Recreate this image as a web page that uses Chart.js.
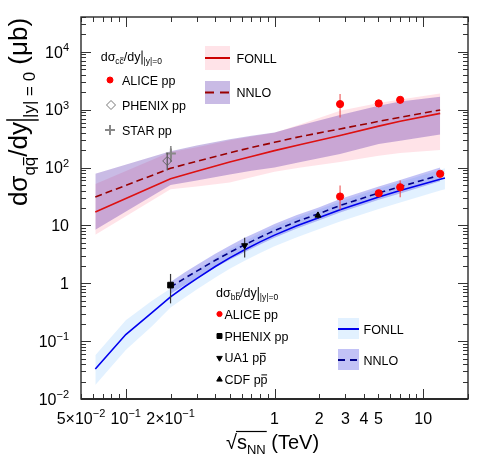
<!DOCTYPE html>
<html><head><meta charset="utf-8">
<script src="https://cdn.jsdelivr.net/npm/chart.js@4.4.1/dist/chart.umd.min.js"></script>
<style>html,body{margin:0;padding:0;background:#fff;}canvas{display:block;}</style>
</head><body>
<canvas id="c" width="480" height="466" style="width:480px;height:466px"></canvas>
<script>
// ---------------- data ----------------
const charmEnergy        = [0.0624, 0.2, 0.3, 0.5, 0.7, 1, 1.5, 2.76, 5.02, 7, 13];
const charmFonllCentral  = [17, 64, 86, 125, 155, 196, 250, 357, 520, 630, 863];
const charmFonllLow      = [6.9, 42, 47, 55, 68, 85, 100, 125, 160, 178, 202];
const charmFonllHigh     = [52, 185, 225, 295, 345, 400, 560, 960, 1300, 1500, 1910];
const charmNnloCentral   = [31, 97, 128, 180, 222, 273, 345, 465, 628, 740, 990];
const charmNnloLow       = [8.4, 50, 60, 76, 88, 100, 125, 172, 256, 292, 371];
const charmNnloHigh      = [78, 191, 240, 310, 355, 405, 540, 811, 1170, 1390, 1675];

const beautyFonllEnergy  = [0.0624, 0.1, 0.15, 0.2, 0.25, 0.3, 0.4, 0.5, 0.63, 0.8, 1, 1.4, 1.96, 2.76, 5.02, 7, 13, 14];
const beautyFonllCentral = [0.033, 0.13, 0.31, 0.58, 0.88, 1.2, 1.95, 2.75, 3.8, 5.2, 6.8, 9.8, 13.5, 18.7, 31.1, 40.3, 63, 66];
const beautyFonllLow     = [0.0174, 0.07, 0.18, 0.38, 0.57, 0.78, 1.26, 1.78, 2.46, 3.35, 4.35, 6.2, 8.5, 11.7, 19.3, 25, 40, 42];
const beautyFonllHigh    = [0.057, 0.23, 0.5, 0.81, 1.23, 1.68, 2.73, 3.86, 5.35, 7.3, 9.5, 13.6, 18.6, 25.8, 43.5, 56.5, 92, 97];
const beautyNnloEnergy   = [0.2, 0.25, 0.3, 0.4, 0.5, 0.63, 0.8, 1, 1.4, 1.96, 2.76, 5.02, 7, 13];
const beautyNnloCentral  = [0.86, 1.23, 1.62, 2.5, 3.41, 4.64, 6.24, 8.16, 11.6, 15.8, 22.1, 36.4, 46.7, 74];
const beautyNnloLow      = [0.66, 0.93, 1.22, 1.88, 2.56, 3.45, 4.7, 6.15, 8.8, 12.1, 16.8, 27.7, 35.5, 58];
const beautyNnloHigh     = [1.05, 1.55, 2.07, 3.25, 4.45, 6.1, 8.1, 10.6, 15, 20.3, 28.6, 47, 61, 100];

const aliceCharmE  = [2.76, 5.02, 7];
const aliceCharmY  = [1250, 1285, 1480];
const aliceCharmLo = [736, 1160, 1340];
const aliceCharmHi = [1870, 1420, 1640];
const phenixCharmE = [0.19];
const phenixCharmY = [130];
const phenixCharmLo = [90];
const phenixCharmHi = [180];
const starCharmE  = [0.201];
const starCharmY  = [175];
const starCharmLo = [125];
const starCharmHi = [235];

const aliceBeautyE  = [2.76, 5.02, 7, 13];
const aliceBeautyY  = [31.6, 36, 45.7, 78];
const aliceBeautyLo = [18.7, 33, 30.7, 72];
const aliceBeautyHi = [49, 39.5, 60, 85];
const phenixBeautyE  = [0.2];
const phenixBeautyY  = [0.93];
const phenixBeautyLo = [0.45];
const phenixBeautyHi = [1.45];
const ua1E  = [0.63];
const ua1Y  = [4.5];
const ua1Lo = [2.8];
const ua1Hi = [6.1];
const cdfE  = [1.96];
const cdfY  = [14.9];
const cdfLo = [13];
const cdfHi = [17];

const xTickValues = [0.05, 0.1, 0.2, 1, 2, 3, 4, 5, 10];
const xTickLabels = ['5×10^−2', '10^−1', '2×10^−1', '1', '2', '3', '4', '5', '10'];
const yTickValues = [0.01, 0.1, 1, 10, 100, 1000, 10000];
const yTickLabels = ['10^−2', '10^−1', '1', '10', '10^2', '10^3', '10^4'];

// ---------------- helpers ----------------
const FONT = '"Liberation Sans", Arial, Helvetica, sans-serif';
const xy = (xs, ys) => xs.map((x, i) => ({x: x, y: ys[i]}));
function setFont(ctx, s) { ctx.font = s + 'px ' + FONT; }

function rich(ctx, segs, x, y, draw) {
  let cx = x;
  for (const s of segs) {
    if (s.bar) {
      if (draw) {
        ctx.save(); ctx.lineWidth = s.w || 1.2; ctx.strokeStyle = ctx.fillStyle;
        ctx.beginPath(); ctx.moveTo(cx + s.pad, y + s.y0); ctx.lineTo(cx + s.pad, y + s.y1); ctx.stroke();
        ctx.restore();
      }
      cx += 2 * s.pad; continue;
    }
    setFont(ctx, s.size);
    const w = ctx.measureText(s.t).width;
    const by = y + (s.dy || 0);
    if (draw) {
      ctx.fillText(s.t, cx, by);
      if (s.over) {
        const a = ctx.measureText(s.t.slice(0, s.over[0])).width;
        const b = ctx.measureText(s.t.slice(0, s.over[1])).width;
        const oy = by - s.size * s.overY;
        ctx.save(); ctx.lineWidth = Math.max(0.8, s.size * 0.07); ctx.strokeStyle = ctx.fillStyle;
        ctx.beginPath(); ctx.moveTo(cx + a + s.size * 0.05, oy); ctx.lineTo(cx + b - s.size * 0.03, oy); ctx.stroke();
        ctx.restore();
      }
    }
    cx += w;
  }
  return cx - x;
}

function supLabel(ctx, label, x, y, align, F, Fs) {
  const parts = label.split('^');
  setFont(ctx, F); const wb = ctx.measureText(parts[0]).width;
  let we = 0;
  if (parts[1]) { setFont(ctx, Fs); we = ctx.measureText(parts[1]).width; }
  const tot = wb + we;
  const x0 = align === 'center' ? x - tot / 2 : (align === 'right' ? x - tot : x);
  setFont(ctx, F); ctx.fillText(parts[0], x0, y);
  if (parts[1]) { setFont(ctx, Fs); ctx.fillText(parts[1], x0 + wb, y - F * 0.42); }
}

function marker(ctx, style, r, x, y, fill, stroke, rot, bw) {
  ctx.save();
  ctx.fillStyle = fill; ctx.strokeStyle = stroke; ctx.lineWidth = bw || 1;
  Chart.helpers.drawPoint(ctx, {pointStyle: style, radius: r, rotation: rot || 0, borderWidth: bw || 1}, x, y);
  ctx.restore();
}

// ---------------- decoration plugin ----------------
const decor = {
  id: 'decor',
  beforeDatasetDraw(chart, args) {
    const ds = chart.data.datasets[args.index];
    if (!ds.errLow) return;
    const ctx = chart.ctx, xs = chart.scales.x, ys = chart.scales.y;
    ctx.save(); ctx.strokeStyle = ds.errColor; ctx.lineWidth = 1.2;
    ds.data.forEach((p, i) => {
      const px = xs.getPixelForValue(p.x);
      ctx.beginPath();
      ctx.moveTo(px, ys.getPixelForValue(ds.errLow[i]));
      ctx.lineTo(px, ys.getPixelForValue(ds.errHigh[i]));
      ctx.stroke();
    });
    ctx.restore();
  },
  afterDatasetsDraw(chart) {
    const ctx = chart.ctx, a = chart.chartArea, xs = chart.scales.x, ys = chart.scales.y;
    ctx.save();
    ctx.fillStyle = '#000'; ctx.textBaseline = 'alphabetic'; ctx.textAlign = 'left';
    // ticks
    ctx.strokeStyle = '#333'; ctx.lineWidth = 1;
    for (const d of [0.01, 0.1, 1, 10]) {
      for (let m = 1; m <= 9; m++) {
        const v = +(m * d).toPrecision(3);
        if (v < xs.min - 1e-9 || v > xs.max + 1e-9) continue;
        const px = Math.round(xs.getPixelForValue(v)) + 0.5;
        const L = m === 1 ? 10 : 5;
        ctx.beginPath(); ctx.moveTo(px, a.bottom); ctx.lineTo(px, a.bottom - L);
        ctx.moveTo(px, a.top); ctx.lineTo(px, a.top + L); ctx.stroke();
      }
    }
    for (const d of [0.01, 0.1, 1, 10, 100, 1000, 10000]) {
      for (let m = 1; m <= 9; m++) {
        const v = m * d;
        if (v < ys.min * 0.999 || v > ys.max * 1.001) continue;
        const py = Math.round(ys.getPixelForValue(v)) + 0.5;
        const L = m === 1 ? 10 : 5;
        ctx.beginPath(); ctx.moveTo(a.left, py); ctx.lineTo(a.left + L, py);
        ctx.moveTo(a.right, py); ctx.lineTo(a.right - L, py); ctx.stroke();
      }
    }
    // frame
    ctx.strokeStyle = '#2a2a2a'; ctx.lineWidth = 1.4;
    ctx.strokeRect(a.left, a.top, a.right - a.left, a.bottom - a.top);
    ctx.lineWidth = 2; ctx.beginPath(); ctx.moveTo(a.left, a.bottom); ctx.lineTo(a.right, a.bottom); ctx.stroke();
    // tick labels
    ctx.fillStyle = '#000';
    xTickValues.forEach((v, i) => supLabel(ctx, xTickLabels[i], xs.getPixelForValue(v), 424, 'center', 16, 11));
    yTickValues.forEach((v, i) => supLabel(ctx, yTickLabels[i], 69, ys.getPixelForValue(v) + 5.8, 'right', 16, 11));
    // x title
    {
      const F = 20, S = 13;
      setFont(ctx, F);
      const x0 = 226, b = 449;
      ctx.fillText('√', x0, b);
      const wr = ctx.measureText('√').width;
      const segs = [{t: 's', size: F}, {t: 'NN', size: S, dy: 5}, {t: ' (TeV)', size: F}];
      const ws = rich(ctx, [segs[0], segs[1]], 0, 0, false);
      rich(ctx, segs, x0 + wr, b, true);
      ctx.save(); ctx.lineWidth = 1.2; ctx.strokeStyle = '#000';
      ctx.beginPath(); ctx.moveTo(x0 + wr - 1, b - 17.5); ctx.lineTo(x0 + wr + ws + 1, b - 17.5); ctx.stroke(); ctx.restore();
    }
    // y title (rotated)
    {
      const F = 26, S = 17;
      const segs = [
        {t: 'dσ', size: F},
        {t: 'qq', size: S, dy: 0.3 * F, over: [1, 2], overY: 0.66},
        {t: '/dy', size: F},
        {bar: true, pad: 2, y0: -0.8 * F, y1: 0.45 * F, w: 1.5},
        {t: '|y| = 0', size: S, dy: 0.3 * F},
        {t: ' (μb)', size: F}
      ];
      const len = rich(ctx, segs, 0, 0, false);
      const yc = 112;
      ctx.save(); ctx.translate(27, yc + len / 2); ctx.rotate(-Math.PI / 2);
      rich(ctx, segs, 0, 0, true);
      ctx.restore();
    }
    // ---- charm legend (top-left)
    const LF = 12.5, LS = 8.5;
    const titleSegs = (q) => [
      {t: 'dσ', size: LF},
      {t: q + q, size: LS, dy: 3, over: [1, 2], overY: q === 'b' ? 0.84 : 0.66},
      {t: '/dy', size: LF},
      {bar: true, pad: 1.5, y0: -10, y1: 4, w: 1},
      {t: '|y|=0', size: LS, dy: 3}
    ];
    rich(ctx, titleSegs('c'), 100.7, 60.5, true);
    setFont(ctx, LF);
    marker(ctx, 'circle', 3, 110, 80, '#ff0000', '#ff0000');
    ctx.fillStyle = '#000'; ctx.fillText('ALICE pp', 122, 84.5);
    marker(ctx, 'rectRot', 4.5, 111, 105, 'rgba(0,0,0,0)', '#777', 0, 1);
    ctx.fillStyle = '#000'; setFont(ctx, LF); ctx.fillText('PHENIX pp', 122, 109.5);
    marker(ctx, 'cross', 5, 110, 130, 'rgba(0,0,0,0)', '#888', 0, 2);
    ctx.fillStyle = '#000'; setFont(ctx, LF); ctx.fillText('STAR pp', 122, 134.5);
    // ---- charm model legend (top-right)
    ctx.fillStyle = 'rgba(255,192,203,0.45)'; ctx.fillRect(205, 46, 25, 24);
    ctx.fillStyle = 'rgba(60,10,160,0.28)'; ctx.fillRect(205, 81, 25, 23);
    ctx.save(); ctx.lineWidth = 2;
    ctx.strokeStyle = '#cc0000'; ctx.beginPath(); ctx.moveTo(205, 58); ctx.lineTo(230, 58); ctx.stroke();
    ctx.strokeStyle = '#990000'; ctx.setLineDash([9, 6]); ctx.beginPath(); ctx.moveTo(205, 92.5); ctx.lineTo(230, 92.5); ctx.stroke();
    ctx.restore();
    ctx.fillStyle = '#000'; setFont(ctx, LF);
    ctx.fillText('FONLL', 236.5, 62.5); ctx.fillText('NNLO', 236.5, 97);
    // ---- beauty legend (bottom)
    rich(ctx, titleSegs('b'), 216, 297, true);
    marker(ctx, 'circle', 2.6, 219.5, 314, '#ff0000', '#ff0000');
    marker(ctx, 'rect', 3.5, 219.5, 336, '#000', '#000');
    marker(ctx, 'triangle', 3.2, 219.5, 358, '#000', '#000', 180);
    marker(ctx, 'triangle', 3.2, 219.5, 379.5, '#000', '#000');
    ctx.fillStyle = '#000'; setFont(ctx, LF);
    ctx.fillText('ALICE pp', 224.5, 318.5);
    ctx.fillText('PHENIX pp', 224.5, 340.5);
    const pbar = (txt, x, y) => {
      setFont(ctx, LF); ctx.fillText(txt, x, y);
      const w1 = ctx.measureText(txt.slice(0, -1)).width, w2 = ctx.measureText(txt).width;
      ctx.save(); ctx.lineWidth = 1; ctx.strokeStyle = '#000';
      ctx.beginPath(); ctx.moveTo(x + w1 + 0.8, y - 8.6); ctx.lineTo(x + w2 - 0.5, y - 8.6); ctx.stroke(); ctx.restore();
    };
    pbar('UA1 pp', 224.5, 362);
    pbar('CDF pp', 224.5, 383.5);
    // ---- beauty model legend (bottom-right)
    ctx.fillStyle = 'rgba(190,225,255,0.45)'; ctx.fillRect(338, 318, 21, 21);
    ctx.fillStyle = 'rgba(80,80,230,0.35)'; ctx.fillRect(338, 349, 21, 21);
    ctx.save(); ctx.lineWidth = 2;
    ctx.strokeStyle = '#0000ee'; ctx.beginPath(); ctx.moveTo(338, 329); ctx.lineTo(359, 329); ctx.stroke();
    ctx.strokeStyle = '#000088'; ctx.setLineDash([7, 5]); ctx.beginPath(); ctx.moveTo(338, 360); ctx.lineTo(359, 360); ctx.stroke();
    ctx.restore();
    ctx.fillStyle = '#000'; setFont(ctx, LF);
    ctx.fillText('FONLL', 363.5, 333.5); ctx.fillText('NNLO', 363.5, 364.5);
    ctx.restore();
  }
};

// ---------------- chart ----------------
const band = (xs, ys, color, order, fillTarget) => ({
  data: xy(xs, ys), borderColor: 'rgba(0,0,0,0)', borderWidth: 0, pointRadius: 0,
  backgroundColor: color, fill: fillTarget, order: order
});
const curve = (xs, ys, color, dash, order) => ({
  data: xy(xs, ys), borderColor: color, borderWidth: 1.6, borderDash: dash, pointRadius: 0,
  fill: false, order: order
});
const pts = (xs, ys, lo, hi, style, r, fill, stroke, errColor, rot, bw) => ({
  data: xy(xs, ys), showLine: false, pointStyle: style, pointRadius: r, pointRotation: rot || 0,
  pointBackgroundColor: fill, pointBorderColor: stroke, pointBorderWidth: bw || 1,
  errLow: lo, errHigh: hi, errColor: errColor, fill: false, order: 1
});

new Chart(document.getElementById('c'), {
  type: 'line',
  data: {
    datasets: [
      band(charmEnergy, charmFonllHigh, 'rgba(255,192,203,0.45)', 40, '+1'),
      band(charmEnergy, charmFonllLow, 'rgba(0,0,0,0)', 41, false),
      band(charmEnergy, charmNnloHigh, 'rgba(60,10,160,0.28)', 38, '+1'),
      band(charmEnergy, charmNnloLow, 'rgba(0,0,0,0)', 39, false),
      curve(charmEnergy, charmFonllCentral, '#dd1111', [], 10),
      curve(charmEnergy, charmNnloCentral, '#990000', [7, 4], 9),
      band(beautyFonllEnergy, beautyFonllHigh, 'rgba(190,225,255,0.45)', 36, '+1'),
      band(beautyFonllEnergy, beautyFonllLow, 'rgba(0,0,0,0)', 37, false),
      band(beautyNnloEnergy, beautyNnloHigh, 'rgba(80,80,230,0.35)', 34, '+1'),
      band(beautyNnloEnergy, beautyNnloLow, 'rgba(0,0,0,0)', 35, false),
      curve(beautyFonllEnergy, beautyFonllCentral, '#0000ee', [], 8),
      curve(beautyNnloEnergy, beautyNnloCentral, '#000088', [6, 4], 7),
      pts(phenixCharmE, phenixCharmY, phenixCharmLo, phenixCharmHi, 'rectRot', 4.5, 'rgba(255,255,255,0)', '#666', '#555', 0, 1),
      pts(starCharmE, starCharmY, starCharmLo, starCharmHi, 'cross', 5, 'rgba(0,0,0,0)', '#888', '#666', 0, 2),
      pts(aliceCharmE, aliceCharmY, aliceCharmLo, aliceCharmHi, 'circle', 3.6, '#ff0000', '#ff0000', 'rgba(235,70,70,0.85)'),
      pts(aliceBeautyE, aliceBeautyY, aliceBeautyLo, aliceBeautyHi, 'circle', 3.6, '#ff0000', '#ff0000', 'rgba(235,70,70,0.85)'),
      pts(phenixBeautyE, phenixBeautyY, phenixBeautyLo, phenixBeautyHi, 'rect', 4, '#000', '#000', '#333'),
      pts(ua1E, ua1Y, ua1Lo, ua1Hi, 'triangle', 3.5, '#000', '#000', '#333', 180),
      pts(cdfE, cdfY, cdfLo, cdfHi, 'triangle', 3.5, '#000', '#000', '#333')
    ]
  },
  options: {
    responsive: false, animation: false, devicePixelRatio: 1,
    layout: {padding: {left: 81, right: 12, top: 17, bottom: 67}},
    elements: {line: {tension: 0}},
    scales: {
      x: {type: 'logarithmic', min: 0.05, max: 20, display: false},
      y: {type: 'logarithmic', min: 0.01, max: 40000, display: false}
    },
    plugins: {legend: {display: false}, tooltip: {enabled: false}}
  },
  plugins: [decor]
});
</script>
</body></html>
